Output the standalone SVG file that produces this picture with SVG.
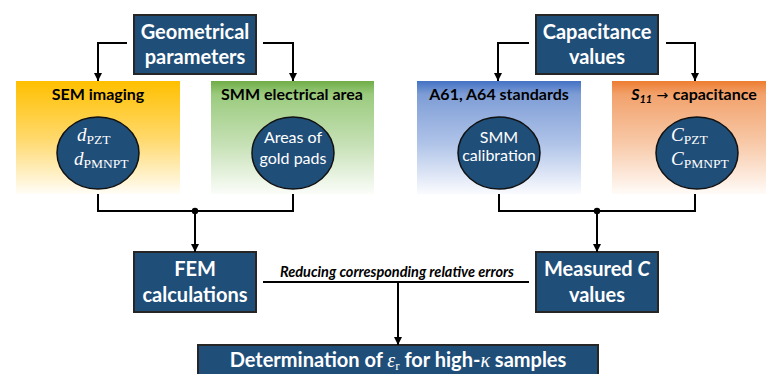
<svg xmlns="http://www.w3.org/2000/svg" width="766" height="374" viewBox="0 0 766 374">
<defs>
<linearGradient id="gY" x1="0" y1="0" x2="0" y2="1"><stop offset="0" stop-color="#FFC000"/><stop offset="0.5" stop-color="#FFD869"/><stop offset="1" stop-color="#FFFDF6"/></linearGradient>
<linearGradient id="gG" x1="0" y1="0" x2="0" y2="1"><stop offset="0" stop-color="#70AD47"/><stop offset="0.12" stop-color="#9BCB7E"/><stop offset="0.55" stop-color="#C5E0B4"/><stop offset="1" stop-color="#FBFDF9"/></linearGradient>
<linearGradient id="gB" x1="0" y1="0" x2="0" y2="1"><stop offset="0" stop-color="#4472C4"/><stop offset="0.12" stop-color="#7E9DD6"/><stop offset="0.55" stop-color="#AFC3E8"/><stop offset="1" stop-color="#FAFBFE"/></linearGradient>
<linearGradient id="gO" x1="0" y1="0" x2="0" y2="1"><stop offset="0" stop-color="#ED7D31"/><stop offset="0.12" stop-color="#F2A26C"/><stop offset="0.55" stop-color="#F8C9A8"/><stop offset="1" stop-color="#FFFBF8"/></linearGradient>
<marker id="ah" viewBox="0 0 10 10" refX="10" refY="5" markerWidth="4" markerHeight="4" orient="auto" markerUnits="strokeWidth"><path d="M0,0 L10,5 L0,10 z" fill="#000"/></marker>
<style>
.box{fill:#1F4E79;stroke:#262626;stroke-width:2}
.circ{fill:#1F4E79;stroke:#111;stroke-width:1.5}
.bt{font-family:Lato,"Liberation Sans",sans-serif;font-weight:bold;font-size:20px;fill:#fff;text-anchor:middle}
.pt{font-family:Lato,"Liberation Sans",sans-serif;font-weight:bold;font-size:16px;fill:#000;text-anchor:middle}
.ct{font-family:Lato,"Liberation Sans",sans-serif;font-size:16px;fill:#fff;text-anchor:middle}
.math{font-family:"Liberation Serif","DejaVu Serif",serif;fill:#fff;font-size:19px}
.con{fill:none;stroke:#000;stroke-width:2}
</style>
</defs>

<g id="geometrical">
<rect class="box" x="134" y="15" width="122" height="59"/>
<text class="bt" x="195" y="39">Geometrical</text>
<text class="bt" x="195" y="64">parameters</text>
</g>

<g id="capacitance">
<rect class="box" x="536" y="15" width="122" height="59"/>
<text class="bt" x="597" y="39">Capacitance</text>
<text class="bt" x="597" y="64">values</text>
</g>

<g id="sem">
<rect x="16" y="81" width="164" height="113" fill="url(#gY)"/>
<text class="pt" x="98" y="100">SEM imaging</text>
<ellipse class="circ" cx="98" cy="153" rx="41" ry="36"/>
<text class="math" x="77" y="141"><tspan font-style="italic">d</tspan><tspan font-size="13.5" dy="3">PZT</tspan></text>
<text class="math" x="74" y="165"><tspan font-style="italic">d</tspan><tspan font-size="13.5" dy="3">PMNPT</tspan></text>
</g>

<g id="smm-area">
<rect x="211" y="81" width="163" height="113" fill="url(#gG)"/>
<text class="pt" x="292" y="100">SMM electrical area</text>
<ellipse class="circ" cx="293" cy="153" rx="41" ry="36"/>
<text class="ct" x="293" y="143">Areas of</text>
<text class="ct" x="293" y="164">gold pads</text>
</g>

<g id="standards">
<rect x="417" y="81" width="164" height="113" fill="url(#gB)"/>
<text class="pt" x="499" y="100">A61, A64 standards</text>
<ellipse class="circ" cx="499" cy="153" rx="41" ry="36"/>
<text class="ct" x="499" y="143" font-size="13">SMM</text>
<text class="ct" x="499" y="161" font-size="13">calibration</text>
</g>

<g id="s11">
<rect x="612" y="81" width="154" height="113" fill="url(#gO)"/>
<text class="pt" x="694" y="100"><tspan font-style="italic">S</tspan><tspan font-style="italic" font-size="11" dy="3">11</tspan><tspan dy="-3" font-weight="normal" font-family="'DejaVu Sans',sans-serif" font-size="14"> → </tspan>capacitance</text>
<ellipse class="circ" cx="697" cy="153" rx="41" ry="36"/>
<text class="math" x="671" y="141"><tspan font-style="italic">C</tspan><tspan font-size="13.5" dy="3">PZT</tspan></text>
<text class="math" x="671" y="165"><tspan font-style="italic">C</tspan><tspan font-size="13.5" dy="3">PMNPT</tspan></text>
</g>

<g id="fem">
<rect class="box" x="134" y="252" width="122" height="60"/>
<text class="bt" x="195" y="276">FEM</text>
<text class="bt" x="195" y="302">calculations</text>
</g>

<g id="measured">
<rect class="box" x="536" y="252" width="122" height="60"/>
<text class="bt" x="597" y="276">Measured <tspan font-style="italic">C</tspan></text>
<text class="bt" x="597" y="302">values</text>
</g>

<g id="determination">
<rect class="box" x="198" y="345" width="400" height="40"/>
<text class="bt" x="398" y="367" font-size="21">Determination of <tspan font-family="'Liberation Serif',serif" font-style="italic" font-weight="normal">ε</tspan><tspan font-family="'Liberation Serif',serif" font-weight="normal" font-size="13" dy="3">r</tspan><tspan dy="-3"> for high-</tspan><tspan font-family="'Liberation Serif',serif" font-style="italic" font-weight="normal">κ</tspan> samples</text>
</g>

<g id="connectors">
<path class="con" d="M127,43 H98 V81" marker-end="url(#ah)"/>
<path class="con" d="M263,43 H293 V81" marker-end="url(#ah)"/>
<path class="con" d="M529,43 H498 V81" marker-end="url(#ah)"/>
<path class="con" d="M666,43 H695 V81" marker-end="url(#ah)"/>
<path class="con" d="M98,194 V211 H293 V194"/>
<circle cx="195" cy="211" r="3.2" fill="#000"/>
<path class="con" d="M195,211 V252" marker-end="url(#ah)"/>
<path class="con" d="M499,194 V211 H695 V194"/>
<circle cx="597" cy="211" r="3.2" fill="#000"/>
<path class="con" d="M597,211 V252" marker-end="url(#ah)"/>
<path class="con" d="M263,282 H529"/>
<path class="con" d="M398,282 V345" marker-end="url(#ah)"/>
<text x="397" y="277" font-family="Lato,'Liberation Sans',sans-serif" font-weight="bold" font-style="italic" font-size="14.5" text-anchor="middle" fill="#000">Reducing corresponding relative errors</text>
</g>
</svg>
